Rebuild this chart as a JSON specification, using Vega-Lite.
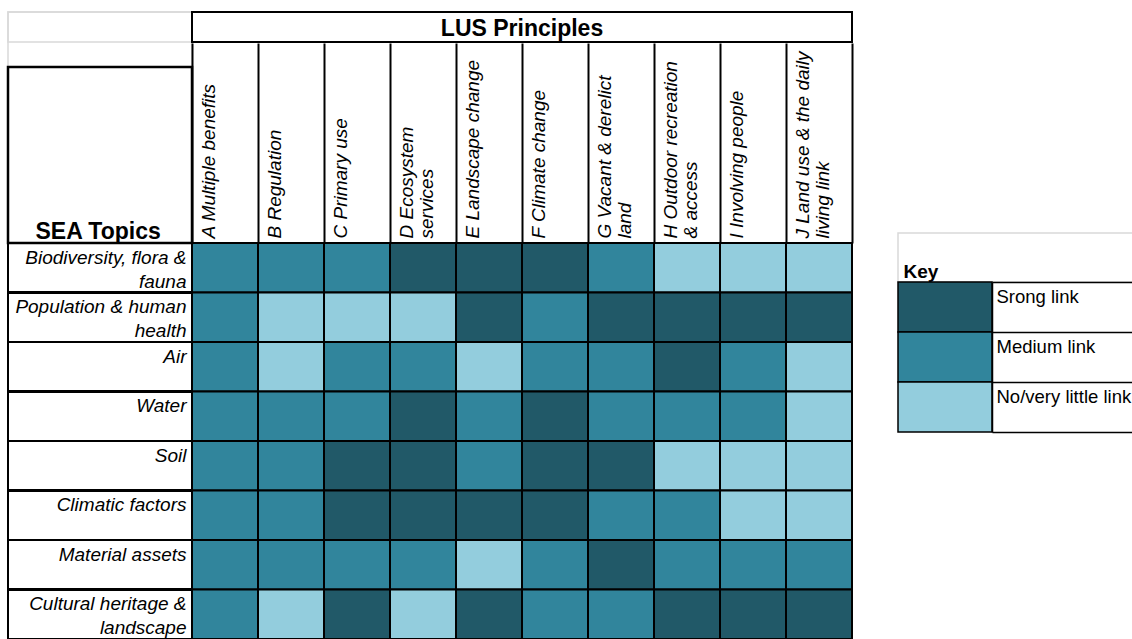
{
  "$schema": "https://vega.github.io/schema/vega-lite/v6.json",
  "width": 660,
  "height": 396,
  "autosize": {"type": "none"},
  "padding": {"left": 192, "top": 243, "right": 280, "bottom": 0},
  "background": "white",
  "config": {"view": {"stroke": null}, "font": "Liberation Sans", "axis": {"grid": false}},
  "data": {"values": [
    {"topic": "Biodiversity, flora &\nfauna", "principle": "A Multiple benefits", "link": "Medium link"},
    {"topic": "Biodiversity, flora &\nfauna", "principle": "B Regulation", "link": "Medium link"},
    {"topic": "Biodiversity, flora &\nfauna", "principle": "C Primary use", "link": "Medium link"},
    {"topic": "Biodiversity, flora &\nfauna", "principle": "D Ecosystem\nservices", "link": "Strong link"},
    {"topic": "Biodiversity, flora &\nfauna", "principle": "E Landscape change", "link": "Strong link"},
    {"topic": "Biodiversity, flora &\nfauna", "principle": "F Climate change", "link": "Strong link"},
    {"topic": "Biodiversity, flora &\nfauna", "principle": "G Vacant & derelict\nland", "link": "Medium link"},
    {"topic": "Biodiversity, flora &\nfauna", "principle": "H Outdoor recreation\n& access", "link": "No/very little link"},
    {"topic": "Biodiversity, flora &\nfauna", "principle": "I Involving people", "link": "No/very little link"},
    {"topic": "Biodiversity, flora &\nfauna", "principle": "J Land use & the daily\nliving link", "link": "No/very little link"},
    {"topic": "Population & human\nhealth", "principle": "A Multiple benefits", "link": "Medium link"},
    {"topic": "Population & human\nhealth", "principle": "B Regulation", "link": "No/very little link"},
    {"topic": "Population & human\nhealth", "principle": "C Primary use", "link": "No/very little link"},
    {"topic": "Population & human\nhealth", "principle": "D Ecosystem\nservices", "link": "No/very little link"},
    {"topic": "Population & human\nhealth", "principle": "E Landscape change", "link": "Strong link"},
    {"topic": "Population & human\nhealth", "principle": "F Climate change", "link": "Medium link"},
    {"topic": "Population & human\nhealth", "principle": "G Vacant & derelict\nland", "link": "Strong link"},
    {"topic": "Population & human\nhealth", "principle": "H Outdoor recreation\n& access", "link": "Strong link"},
    {"topic": "Population & human\nhealth", "principle": "I Involving people", "link": "Strong link"},
    {"topic": "Population & human\nhealth", "principle": "J Land use & the daily\nliving link", "link": "Strong link"},
    {"topic": "Air", "principle": "A Multiple benefits", "link": "Medium link"},
    {"topic": "Air", "principle": "B Regulation", "link": "No/very little link"},
    {"topic": "Air", "principle": "C Primary use", "link": "Medium link"},
    {"topic": "Air", "principle": "D Ecosystem\nservices", "link": "Medium link"},
    {"topic": "Air", "principle": "E Landscape change", "link": "No/very little link"},
    {"topic": "Air", "principle": "F Climate change", "link": "Medium link"},
    {"topic": "Air", "principle": "G Vacant & derelict\nland", "link": "Medium link"},
    {"topic": "Air", "principle": "H Outdoor recreation\n& access", "link": "Strong link"},
    {"topic": "Air", "principle": "I Involving people", "link": "Medium link"},
    {"topic": "Air", "principle": "J Land use & the daily\nliving link", "link": "No/very little link"},
    {"topic": "Water", "principle": "A Multiple benefits", "link": "Medium link"},
    {"topic": "Water", "principle": "B Regulation", "link": "Medium link"},
    {"topic": "Water", "principle": "C Primary use", "link": "Medium link"},
    {"topic": "Water", "principle": "D Ecosystem\nservices", "link": "Strong link"},
    {"topic": "Water", "principle": "E Landscape change", "link": "Medium link"},
    {"topic": "Water", "principle": "F Climate change", "link": "Strong link"},
    {"topic": "Water", "principle": "G Vacant & derelict\nland", "link": "Medium link"},
    {"topic": "Water", "principle": "H Outdoor recreation\n& access", "link": "Medium link"},
    {"topic": "Water", "principle": "I Involving people", "link": "Medium link"},
    {"topic": "Water", "principle": "J Land use & the daily\nliving link", "link": "No/very little link"},
    {"topic": "Soil", "principle": "A Multiple benefits", "link": "Medium link"},
    {"topic": "Soil", "principle": "B Regulation", "link": "Medium link"},
    {"topic": "Soil", "principle": "C Primary use", "link": "Strong link"},
    {"topic": "Soil", "principle": "D Ecosystem\nservices", "link": "Strong link"},
    {"topic": "Soil", "principle": "E Landscape change", "link": "Medium link"},
    {"topic": "Soil", "principle": "F Climate change", "link": "Strong link"},
    {"topic": "Soil", "principle": "G Vacant & derelict\nland", "link": "Strong link"},
    {"topic": "Soil", "principle": "H Outdoor recreation\n& access", "link": "No/very little link"},
    {"topic": "Soil", "principle": "I Involving people", "link": "No/very little link"},
    {"topic": "Soil", "principle": "J Land use & the daily\nliving link", "link": "No/very little link"},
    {"topic": "Climatic factors", "principle": "A Multiple benefits", "link": "Medium link"},
    {"topic": "Climatic factors", "principle": "B Regulation", "link": "Medium link"},
    {"topic": "Climatic factors", "principle": "C Primary use", "link": "Strong link"},
    {"topic": "Climatic factors", "principle": "D Ecosystem\nservices", "link": "Strong link"},
    {"topic": "Climatic factors", "principle": "E Landscape change", "link": "Strong link"},
    {"topic": "Climatic factors", "principle": "F Climate change", "link": "Strong link"},
    {"topic": "Climatic factors", "principle": "G Vacant & derelict\nland", "link": "Medium link"},
    {"topic": "Climatic factors", "principle": "H Outdoor recreation\n& access", "link": "Medium link"},
    {"topic": "Climatic factors", "principle": "I Involving people", "link": "No/very little link"},
    {"topic": "Climatic factors", "principle": "J Land use & the daily\nliving link", "link": "No/very little link"},
    {"topic": "Material assets", "principle": "A Multiple benefits", "link": "Medium link"},
    {"topic": "Material assets", "principle": "B Regulation", "link": "Medium link"},
    {"topic": "Material assets", "principle": "C Primary use", "link": "Medium link"},
    {"topic": "Material assets", "principle": "D Ecosystem\nservices", "link": "Medium link"},
    {"topic": "Material assets", "principle": "E Landscape change", "link": "No/very little link"},
    {"topic": "Material assets", "principle": "F Climate change", "link": "Medium link"},
    {"topic": "Material assets", "principle": "G Vacant & derelict\nland", "link": "Strong link"},
    {"topic": "Material assets", "principle": "H Outdoor recreation\n& access", "link": "Medium link"},
    {"topic": "Material assets", "principle": "I Involving people", "link": "Medium link"},
    {"topic": "Material assets", "principle": "J Land use & the daily\nliving link", "link": "Medium link"},
    {"topic": "Cultural heritage &\nlandscape", "principle": "A Multiple benefits", "link": "Medium link"},
    {"topic": "Cultural heritage &\nlandscape", "principle": "B Regulation", "link": "No/very little link"},
    {"topic": "Cultural heritage &\nlandscape", "principle": "C Primary use", "link": "Strong link"},
    {"topic": "Cultural heritage &\nlandscape", "principle": "D Ecosystem\nservices", "link": "No/very little link"},
    {"topic": "Cultural heritage &\nlandscape", "principle": "E Landscape change", "link": "Strong link"},
    {"topic": "Cultural heritage &\nlandscape", "principle": "F Climate change", "link": "Medium link"},
    {"topic": "Cultural heritage &\nlandscape", "principle": "G Vacant & derelict\nland", "link": "Medium link"},
    {"topic": "Cultural heritage &\nlandscape", "principle": "H Outdoor recreation\n& access", "link": "Strong link"},
    {"topic": "Cultural heritage &\nlandscape", "principle": "I Involving people", "link": "Strong link"},
    {"topic": "Cultural heritage &\nlandscape", "principle": "J Land use & the daily\nliving link", "link": "Strong link"}
  ]},
  "resolve": {"scale": {"x": "independent", "y": "independent"}},
  "layer": [
    {
      "data": {"values": [{"cell": "blank"}]},
      "mark": {"type": "rect", "fill": "transparent", "stroke": "#d9d9d9", "strokeWidth": 1.5},
      "encoding": {
        "x": {"datum": "blank", "type": "nominal", "scale": {"range": [-184, 0], "paddingInner": 0, "paddingOuter": 0}, "axis": null},
        "y": {"datum": "blank", "type": "nominal", "scale": {"range": [-231, -176], "paddingInner": 0, "paddingOuter": 0}, "axis": null}
      }
    },
    {
      "data": {"values": [{"cell": "blank"}]},
      "mark": {"type": "rect", "fill": "transparent", "stroke": "#d9d9d9", "strokeWidth": 1.5},
      "encoding": {
        "x": {"datum": "blank", "type": "nominal", "scale": {"range": [-184, 0], "paddingInner": 0, "paddingOuter": 0}, "axis": null},
        "y": {"datum": "blank", "type": "nominal", "scale": {"range": [-231, -201], "paddingInner": 0, "paddingOuter": 0}, "axis": null}
      }
    },
    {
      "data": {"values": [{"cell": "key header"}]},
      "mark": {"type": "rect", "fill": "transparent", "stroke": "#d9d9d9", "strokeWidth": 1.5},
      "encoding": {
        "x": {"datum": "key header", "type": "nominal", "scale": {"range": [706, 950], "paddingInner": 0, "paddingOuter": 0}, "axis": null},
        "y": {"datum": "key header", "type": "nominal", "scale": {"range": [-10, 39], "paddingInner": 0, "paddingOuter": 0}, "axis": null}
      }
    },
    {
      "mark": {"type": "rect", "stroke": "black", "strokeWidth": 2},
      "encoding": {
        "x": {
          "field": "principle", "type": "nominal", "sort": null,
          "scale": {"paddingInner": 0, "paddingOuter": 0},
          "axis": {
            "orient": "top", "title": null, "domain": false,
            "labelAngle": -90, "labelAlign": "left", "labelBaseline": "top",
            "labelOffset": -26, "labelPadding": -195,
            "labelFont": "Liberation Sans", "labelFontSize": 19, "labelFontStyle": "italic",
            "labelColor": "black", "labelLimit": 0, "labelLineHeight": 20, "labelOverlap": false,
            "labelExpr": "split(datum.label, '\\n')",
            "ticks": true, "tickBand": "extent", "tickSize": 200, "tickColor": "black", "tickWidth": 2
          }
        },
        "y": {
          "field": "topic", "type": "nominal", "sort": null,
          "scale": {"paddingInner": 0, "paddingOuter": 0},
          "axis": {
            "orient": "left", "domain": false, "ticks": false,
            "title": "SEA Topics", "titleAngle": 0, "titleAlign": "left", "titleBaseline": "alphabetic",
            "titleX": -157, "titleY": -5, "titleFont": "Liberation Sans", "titleFontSize": 23,
            "titleFontWeight": "bold", "titleColor": "black",
            "labelAlign": "right", "labelBaseline": "top", "labelOffset": -19, "labelPadding": 6,
            "labelFont": "Liberation Sans", "labelFontSize": 19, "labelFontStyle": "italic",
            "labelColor": "black", "labelLimit": 0, "labelLineHeight": 24, "labelOverlap": false,
            "labelExpr": "split(datum.label, '\\n')"
          }
        },
        "color": {
          "field": "link", "type": "nominal",
          "scale": {"domain": ["Strong link", "Medium link", "No/very little link"], "range": ["#215968", "#31859C", "#93CDDD"]},
          "legend": null
        }
      }
    },
    {
      "mark": {"type": "rect", "fill": "transparent", "stroke": "black", "strokeWidth": 2},
      "encoding": {
        "x": {"datum": "row labels", "type": "nominal", "scale": {"range": [-184, 0], "paddingInner": 0, "paddingOuter": 0}, "axis": null},
        "y": {"field": "topic", "type": "nominal", "sort": null, "scale": {"paddingInner": 0, "paddingOuter": 0}, "axis": null}
      }
    },
    {
      "data": {"values": [{"cell": "SEA Topics"}]},
      "mark": {"type": "rect", "fill": "transparent", "stroke": "black", "strokeWidth": 2.5},
      "encoding": {
        "x": {"datum": "SEA Topics", "type": "nominal", "scale": {"range": [-184, 0], "paddingInner": 0, "paddingOuter": 0}, "axis": null},
        "y": {"datum": "SEA Topics", "type": "nominal", "scale": {"range": [-176, 0], "paddingInner": 0, "paddingOuter": 0}, "axis": null}
      }
    },
    {
      "data": {"values": [{"cell": "LUS Principles"}]},
      "mark": {"type": "rect", "fill": "transparent", "stroke": "black", "strokeWidth": 2},
      "encoding": {
        "x": {"datum": "LUS Principles", "type": "nominal", "scale": {"paddingInner": 0, "paddingOuter": 0}, "axis": null},
        "y": {"datum": "LUS Principles", "type": "nominal", "scale": {"range": [-231, -201], "paddingInner": 0, "paddingOuter": 0}, "axis": null}
      }
    },
    {
      "data": {"values": [{"cell": "LUS Principles"}]},
      "mark": {"type": "text", "font": "Liberation Sans", "fontSize": 23, "fontWeight": "bold", "color": "black", "baseline": "middle", "align": "center", "dy": 2},
      "encoding": {
        "text": {"field": "cell", "type": "nominal"},
        "x": {"datum": "LUS Principles", "type": "nominal", "scale": {"paddingInner": 0, "paddingOuter": 0}, "axis": null},
        "y": {"datum": "LUS Principles", "type": "nominal", "scale": {"range": [-231, -201], "paddingInner": 0, "paddingOuter": 0}, "axis": null}
      }
    },
    {
      "data": {"values": [
        {"link": "Strong link", "label": "Srong link"},
        {"link": "Medium link", "label": "Medium link"},
        {"link": "No/very little link", "label": "No/very little link"}
      ]},
      "mark": {"type": "rect", "stroke": "black", "strokeWidth": 1.5},
      "encoding": {
        "x": {"datum": "swatch", "type": "nominal", "scale": {"range": [706, 800], "paddingInner": 0, "paddingOuter": 0}, "axis": null},
        "y": {
          "field": "label", "type": "nominal", "sort": null,
          "scale": {"range": [39, 189], "paddingInner": 0, "paddingOuter": 0},
          "axis": {
            "orient": "right", "offset": 140,
            "domain": true, "domainColor": "black", "domainWidth": 1.5,
            "ticks": true, "tickBand": "extent", "tickSize": 140, "tickColor": "black", "tickWidth": 1.5,
            "labelAlign": "left", "labelBaseline": "top", "labelOffset": -20, "labelPadding": -136,
            "labelFont": "Liberation Sans", "labelFontSize": 18.5, "labelColor": "black", "labelLimit": 0, "labelOverlap": false,
            "title": "Key", "titleAngle": 0, "titleAlign": "left", "titleBaseline": "alphabetic",
            "titleX": -89, "titleY": 34, "titleFont": "Liberation Sans", "titleFontSize": 19,
            "titleFontWeight": "bold", "titleColor": "black"
          }
        },
        "color": {
          "field": "link", "type": "nominal",
          "scale": {"domain": ["Strong link", "Medium link", "No/very little link"], "range": ["#215968", "#31859C", "#93CDDD"]},
          "legend": null
        }
      }
    }
  ]
}
